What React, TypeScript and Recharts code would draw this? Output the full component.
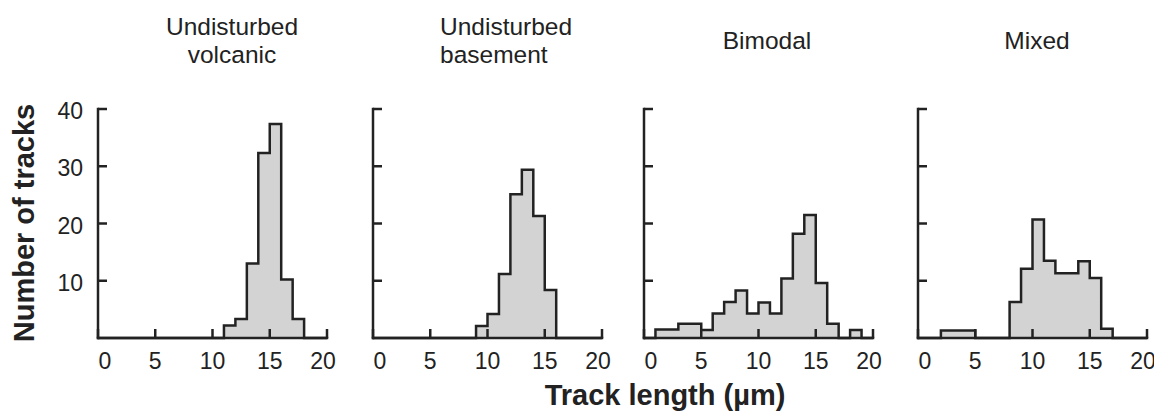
import { AreaChart, Area, XAxis, YAxis } from "recharts"

// Track-length histograms, 1 µm bins from 0 to 20 µm
const binCount = 20
const xTicks = [0, 5, 10, 15, 20]
const yTicks = [10, 20, 30, 40]

const volcanic = [0, 0, 0, 0, 0, 0, 0, 0, 0, 0, 0, 2.2, 3.3, 13, 32.3, 37.4, 10.2, 3.3, 0, 0]
const basement = [0, 0, 0, 0, 0, 0, 0, 0, 0, 2.1, 4.2, 11.2, 25.1, 29.4, 21.3, 8.4, 0, 0, 0, 0]
const bimodal = [0, 1.5, 1.5, 2.5, 2.5, 1.4, 4.3, 6.3, 8.3, 4.3, 6.2, 4.3, 10.4, 18.2, 21.5, 9.6, 2.5, 0, 1.4, 0]
const mixed = [0, 0, 1.3, 1.3, 1.3, 0, 0, 0, 6.3, 12.1, 20.7, 13.5, 11.3, 11.3, 13.4, 10.5, 1.6, 0, 0, 0]

const panelTitles = [["Undisturbed", "volcanic"], ["Undisturbed", "basement"], ["Bimodal"], ["Mixed"]]
const panelCounts = [volcanic, basement, bimodal, mixed]

const INK = "#222"
const FILL = "#d3d3d3"
const FONT = "'Liberation Sans', Arial, Helvetica, sans-serif"
const TICK_FONT = 23

// plot left edge of each panel, and where its title sits
const PLOT_LEFT = [97.5, 372.5, 644, 917.5]
const TITLE_POS: { center?: number; left?: number }[] = [{ center: 232 }, { left: 440 }, { center: 767 }, { center: 1037 }]

const PLOT_W = 229
const PLOT_H = 229
const Y_AXIS_W = 60
const RIGHT_PAD = 24
const CHART_TOP = 80
const MARGIN_TOP = 29
const X_AXIS_H = 46

// step points: each bin start carries the bin count, closed at the last edge
function toSteps(counts: number[]) {
  const pts = counts.map((v, i) => ({ x: i, v }))
  pts.push({ x: binCount, v: 0 })
  return pts
}

// ticks point into the plot, labels sit below
function XTick(props: any) {
  const { x, y, payload } = props
  const shift = payload.value === 0 ? 7 : payload.value === 20 ? -4 : 0
  return (
    <g>
      <line x1={x} x2={x} y1={y} y2={y - 9} stroke={INK} strokeWidth={2.5} />
      <text x={x + shift} y={y + 15} dy="0.71em" textAnchor="middle" fontSize={TICK_FONT} fill={INK}>
        {payload.value}
      </text>
    </g>
  )
}

function YTick(props: any) {
  const { x, y, payload, showLabel } = props
  return (
    <g>
      <line x1={x} x2={x + 9} y1={y} y2={y} stroke={INK} strokeWidth={2.5} />
      {showLabel && (
        <text x={x - 15} y={y + 2} dy="0.355em" textAnchor="end" fontSize={TICK_FONT} fill={INK}>
          {payload.value}
        </text>
      )}
    </g>
  )
}

function Panel({ index }: { index: number }) {
  const data = toSteps(panelCounts[index])
  return (
    <div style={{ position: "absolute", left: PLOT_LEFT[index] - Y_AXIS_W, top: CHART_TOP }}>
      <AreaChart
        width={Y_AXIS_W + PLOT_W + RIGHT_PAD}
        height={MARGIN_TOP + PLOT_H + X_AXIS_H}
        data={data}
        margin={{ top: MARGIN_TOP, right: RIGHT_PAD, left: 0, bottom: 0 }}
      >
        <Area
          type="stepAfter"
          dataKey="v"
          stroke={INK}
          strokeWidth={2.5}
          fill={FILL}
          fillOpacity={1}
          dot={false}
          activeDot={false}
          isAnimationActive={false}
        />
        <XAxis
          type="number"
          dataKey="x"
          domain={[0, 20]}
          ticks={xTicks}
          interval={0}
          height={X_AXIS_H}
          axisLine={{ stroke: INK, strokeWidth: 2.5, strokeLinecap: "square" }}
          tickLine={false}
          tickSize={0}
          tickMargin={0}
          tick={<XTick />}
        />
        <YAxis
          type="number"
          domain={[0, 40]}
          ticks={yTicks}
          interval={0}
          width={Y_AXIS_W}
          axisLine={{ stroke: INK, strokeWidth: 2.5, strokeLinecap: "square" }}
          tickLine={false}
          tickSize={0}
          tickMargin={0}
          tick={<YTick showLabel={index === 0} />}
        />
      </AreaChart>
    </div>
  )
}

function Title({ index }: { index: number }) {
  const pos = TITLE_POS[index]
  const lines = panelTitles[index]
  const boxW = 200
  const left = pos.center !== undefined ? pos.center - boxW / 2 : pos.left
  return (
    <div
      style={{
        position: "absolute",
        left,
        top: 13,
        width: boxW,
        height: 56,
        display: "flex",
        flexDirection: "column",
        justifyContent: "center",
        alignItems: pos.center !== undefined ? "center" : "flex-start",
        fontSize: 24.5,
        lineHeight: "28px",
        color: INK,
        whiteSpace: "nowrap",
      }}
    >
      {lines.map((l) => (
        <div key={l}>{l}</div>
      ))}
    </div>
  )
}

export default function App() {
  return (
    <div
      style={{
        position: "absolute",
        left: 0,
        top: 0,
        width: 1154,
        height: 413,
        background: "#fff",
        fontFamily: FONT,
        overflow: "hidden",
      }}
    >
      {panelCounts.map((_, i) => (
        <Title key={"t" + i} index={i} />
      ))}
      {panelCounts.map((_, i) => (
        <Panel key={"p" + i} index={i} />
      ))}
      <div
        style={{
          position: "absolute",
          left: 23.5 - 150,
          top: 223 - 17,
          width: 300,
          height: 34,
          lineHeight: "34px",
          textAlign: "center",
          fontSize: 29,
          fontWeight: "bold",
          color: INK,
          transform: "rotate(-90deg)",
          whiteSpace: "nowrap",
        }}
      >
        Number of tracks
      </div>
      <div
        style={{
          position: "absolute",
          left: 665 - 200,
          top: 378,
          width: 400,
          height: 34,
          lineHeight: "34px",
          textAlign: "center",
          fontSize: 29,
          fontWeight: "bold",
          color: INK,
          whiteSpace: "nowrap",
        }}
      >
        Track length (µm)
      </div>
    </div>
  )
}
